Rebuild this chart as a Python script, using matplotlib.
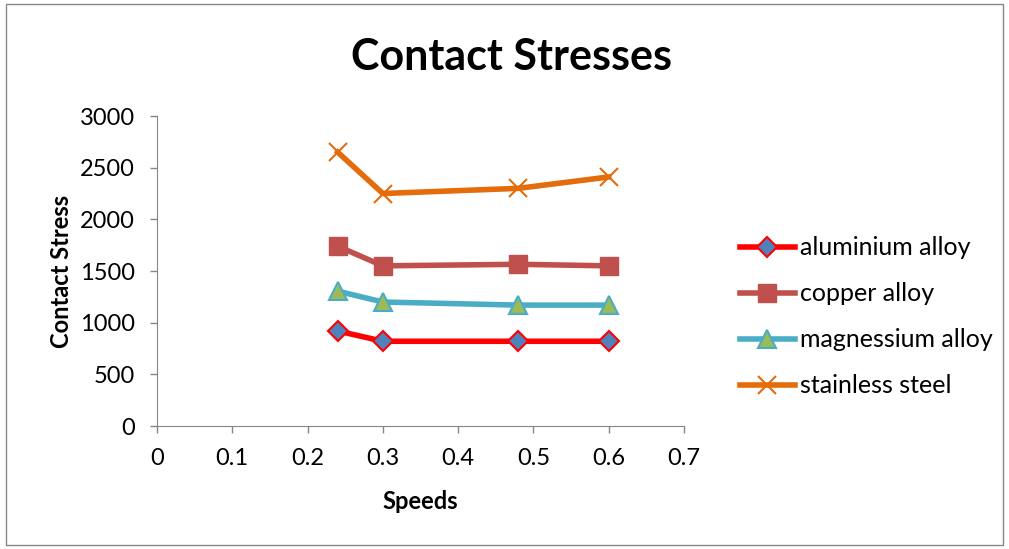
import matplotlib
matplotlib.use("Agg")
import matplotlib.pyplot as plt
from matplotlib.patches import Rectangle

# speeds tested and contact stress per material
speeds = [0.24, 0.3, 0.48, 0.6]
aluminium = [920, 820, 820, 820]
copper = [1740, 1550, 1565, 1550]
magnesium = [1305, 1200, 1170, 1170]
stainless = [2650, 2250, 2300, 2410]

labels = ["aluminium alloy", "copper alloy", "magnessium alloy", "stainless steel"]
x_ticks = [0, 0.1, 0.2, 0.3, 0.4, 0.5, 0.6, 0.7]
y_ticks = [0, 500, 1000, 1500, 2000, 2500, 3000]

plt.rcParams['font.family'] = ['Lato', 'DejaVu Sans']

fig = plt.figure(figsize=(10.09, 5.49), dpi=100)
ax = fig.add_axes([0.1556, 0.224, 0.5223, 0.5647])

# outer chart frame
fig.patches.append(Rectangle((0.006, 0.008), 0.988, 0.984, transform=fig.transFigure,
                             fill=False, edgecolor='#868686', linewidth=1))

ax.plot(speeds, aluminium, color='#ff0000', linewidth=4, marker='D', markersize=10,
        markerfacecolor='#4f81bd', markeredgecolor='#ff0000', markeredgewidth=1.5,
        label=labels[0])
ax.plot(speeds, copper, color='#c0504d', linewidth=4, marker='s', markersize=13,
        markerfacecolor='#c0504d', markeredgecolor='#c0504d', label=labels[1])
ax.plot(speeds, magnesium, color='#4bacc6', linewidth=4, marker='^', markersize=13,
        markerfacecolor='#9bbb59', markeredgecolor='#4bacc6', markeredgewidth=1.5,
        label=labels[2])
ax.plot(speeds, stainless, color='#e46c0a', linewidth=4, marker='x', markersize=13,
        markeredgecolor='#e46c0a', markeredgewidth=1.5, label=labels[3])

ax.set_xlim(0, 0.7)
ax.set_ylim(0, 3000)
ax.set_xticks(x_ticks)
ax.set_xticklabels([str(t) if t else "0" for t in x_ticks])
ax.set_yticks(y_ticks)
ax.tick_params(labelsize=17, length=5, width=1, color='#868686')
ax.tick_params(axis='x', direction='out', pad=11)
ax.tick_params(axis='y', pad=11)
for side in ['top', 'right']:
    ax.spines[side].set_visible(False)
for side in ['left', 'bottom']:
    ax.spines[side].set_color('#868686')

ax.set_xlabel("Speeds", fontsize=17, fontweight='bold', labelpad=15)
ax.set_ylabel("Contact Stress", fontsize=17, fontweight='bold', labelpad=5)
fig.text(0.507, 0.897, "Contact Stresses", fontsize=31, fontweight='bold',
         ha='center', va='center')

ax.legend(loc='center left', bbox_to_anchor=(1.106, 0.352), frameon=False, fontsize=18,
          handlelength=2.2, labelspacing=0.92, handletextpad=0.2,
          borderpad=0, borderaxespad=0)

fig.savefig("out.png", dpi=100)
